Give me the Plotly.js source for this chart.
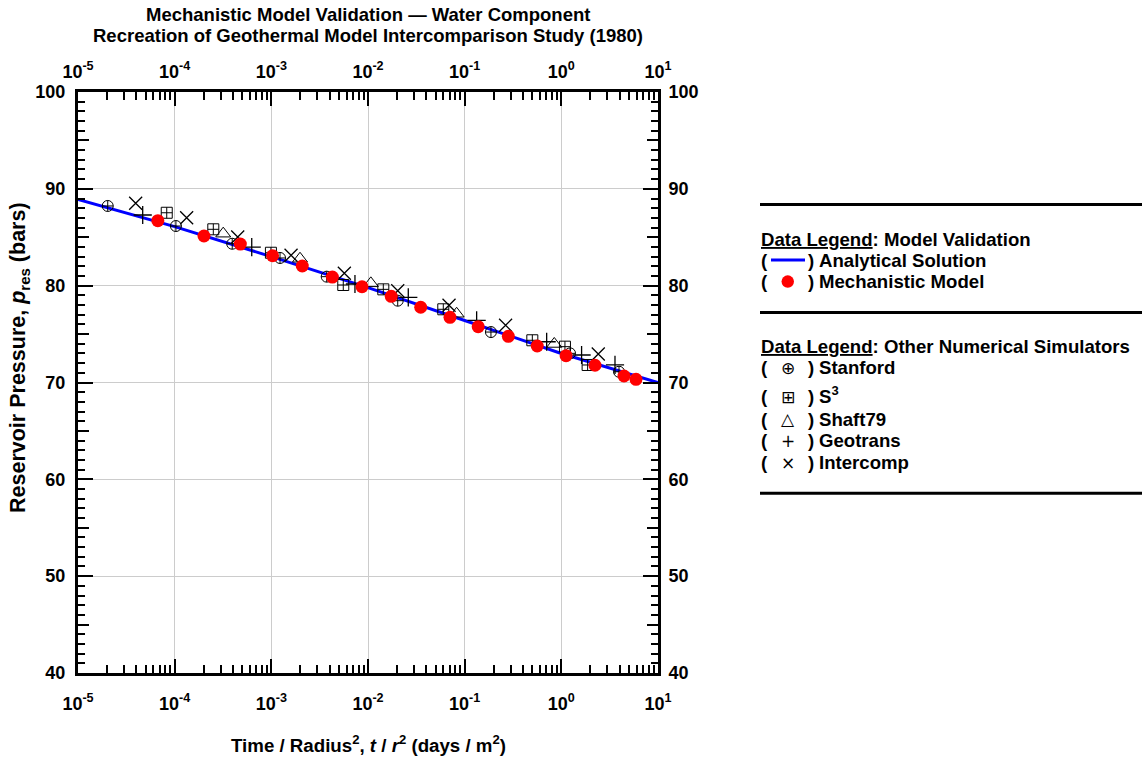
<!DOCTYPE html>
<html><head><meta charset="utf-8">
<script src="https://cdn.plot.ly/plotly-3.0.1.min.js"></script>
<style>html,body{margin:0;padding:0;background:#fff}#chart{width:1143px;height:763px}</style>
</head><body><div id="chart"></div>
<script>
// ---- data ----
const analyticalT = [1e-5, 1e-4, 1e-3, 1e-2, 1e-1, 1, 10];
const analyticalP = [88.9, 86.1, 83.0, 79.8, 76.4, 73.0, 70.0];

const mechT = [6.7e-5, 2.01e-4, 4.78e-4, 1.03e-3, 2.09e-3, 4.28e-3, 8.67e-3, 1.74e-2, 3.51e-2, 7.05e-2, 0.138, 0.283, 0.563, 1.12, 2.23, 4.45, 5.92];
const mechP = [86.71, 85.13, 84.30, 83.09, 82.03, 80.89, 79.89, 78.90, 77.77, 76.73, 75.76, 74.77, 73.77, 72.77, 71.78, 70.67, 70.33];

const stanfordT = [2.03e-5, 1.03e-4, 3.94e-4, 1.23e-3, 3.74e-3, 2.03e-2, 0.187, 1.23, 3.95];
const stanfordP = [88.23, 86.16, 84.33, 82.86, 80.93, 78.45, 75.21, 73.01, 71.11];

const s3T = [8.28e-5, 2.51e-4, 9.9e-4, 5.55e-3, 1.44e-2, 6.01e-2, 0.501, 1.09, 1.87];
const s3P = [87.53, 85.82, 83.40, 80.07, 79.62, 77.56, 74.36, 73.70, 71.81];

const shaftT = [3.18e-4, 1.98e-3, 1.07e-2, 8.26e-2, 0.845];
const shaftP = [85.37, 82.78, 80.24, 77.10, 73.98];

const geoT = [4.67e-5, 6.27e-4, 7.33e-3, 2.61e-2, 0.133, 0.705, 1.62, 3.59];
const geoP = [87.30, 83.99, 80.17, 78.80, 76.42, 74.21, 72.84, 71.81];

const interT = [3.95e-5, 1.33e-4, 4.49e-4, 1.60e-3, 5.69e-3, 2.03e-2, 6.89e-2, 0.265, 2.41];
const interP = [88.51, 87.02, 85.03, 83.14, 81.28, 79.48, 77.97, 75.91, 72.94];

const xTickVals = [1e-5, 1e-4, 1e-3, 1e-2, 1e-1, 1, 10];
const xTickText = ['10<sup>-5</sup>', '10<sup>-4</sup>', '10<sup>-3</sup>', '10<sup>-2</sup>', '10<sup>-1</sup>', '10<sup>0</sup>', '10<sup>1</sup>'];
const yTickVals = [40, 50, 60, 70, 80, 90, 100];
const yMidTicks = [45, 55, 65, 75, 85, 95];

// ---- layout helpers ----
const L = 78, R = 658, T = 92, B = 673;
const px = x => (x - L) / (R - L);
const py = y => (B - y) / (B - T);
const FONT = 'Liberation Sans, Arial, sans-serif';
const SYMF = 'DejaVu Sans, sans-serif';

const minorX = [];
for (let d = -5; d < 1; d++) for (let k = 2; k <= 9; k++) minorX.push(k * Math.pow(10, d));

const tickFont = {family: FONT, size: 18, color: '#000', weight: 'bold'};

const xBase = {
  type: 'log', range: [-5, 1], tickmode: 'array', tickvals: xTickVals, ticktext: xTickText,
  ticks: 'inside', ticklen: 14, tickwidth: 2, tickcolor: '#000',
  showline: true, linewidth: 3, linecolor: '#000', zeroline: false,
  tickfont: tickFont,
  minor: {tickmode: 'array', tickvals: minorX, ticks: 'inside', ticklen: 8, tickwidth: 2, tickcolor: '#000', showgrid: false}
};
const yBase = {
  range: [40, 100], tickmode: 'array', tickvals: yTickVals,
  ticks: 'inside', ticklen: 15, tickwidth: 2, tickcolor: '#000',
  showline: true, linewidth: 3, linecolor: '#000', zeroline: false,
  tickfont: tickFont,
  minor: {dtick: 1, ticks: 'inside', ticklen: 7, tickwidth: 2, tickcolor: '#000', showgrid: false}
};

const traces = [
  {x: analyticalT, y: analyticalP, mode: 'lines', line: {color: '#0000ff', width: 3}, name: 'Analytical Solution'},
  {x: stanfordT, y: stanfordP, mode: 'markers', name: 'Stanford',
   marker: {symbol: 'circle-cross-open', size: 11, color: '#000', line: {width: 1, color: '#000'}}},
  {x: s3T, y: s3P, mode: 'markers', name: 'S3',
   marker: {symbol: 'square-cross-open', size: 11, color: '#000', line: {width: 1, color: '#000'}}},
  {x: shaftT, y: shaftP, mode: 'markers', name: 'Shaft79',
   marker: {symbol: 'triangle-up-open', size: 13, color: '#000', line: {width: 1, color: '#000'}}},
  {x: geoT, y: geoP, mode: 'markers', name: 'Geotrans',
   marker: {symbol: 'cross-thin-open', size: 13, color: '#000', line: {width: 1.3, color: '#000'}}},
  {x: interT, y: interP, mode: 'markers', name: 'Intercomp',
   marker: {symbol: 'x-thin-open', size: 13, color: '#000', line: {width: 1.3, color: '#000'}}},
  {x: mechT, y: mechP, mode: 'markers', name: 'Mechanistic Model',
   marker: {symbol: 'circle', size: 13, color: '#ff0000', line: {width: 0}}},
  // carriers for the extra axes
  {x: [null], y: [null], xaxis: 'x2', yaxis: 'y2', mode: 'markers', showlegend: false, hoverinfo: 'skip'},
  {x: [null], y: [null], xaxis: 'x', yaxis: 'y3', mode: 'markers', showlegend: false, hoverinfo: 'skip'},
  {x: [null], y: [null], xaxis: 'x', yaxis: 'y4', mode: 'markers', showlegend: false, hoverinfo: 'skip'}
];

const ann = [];
function txt(x, y, text, opts) {
  ann.push(Object.assign({xref: 'paper', yref: 'paper', x: px(x), y: py(y), text: text, showarrow: false,
    xanchor: 'left', yanchor: 'middle', font: {family: FONT, size: 18.6, color: '#000', weight: 'bold'}}, opts || {}));
}
// titles
txt(368, 15, 'Mechanistic Model Validation \u2014 Water Component', {xanchor: 'center', font: {family: FONT, size: 18.5, color: '#000', weight: 'bold'}});
txt(368, 36, 'Recreation of Geothermal Model Intercomparison Study (1980)', {xanchor: 'center', font: {family: FONT, size: 18.5, color: '#000', weight: 'bold'}});
txt(368, 744, 'Time / Radius<sup>2</sup>, <i>t</i> / <i>r</i><sup>2</sup> (days / m<sup>2</sup>)', {xanchor: 'center', font: {family: FONT, size: 18.7, color: '#000', weight: 'bold'}});
txt(19, 358, 'Reservoir Pressure, <i>p</i><sub>res</sub> (bars)', {xanchor: 'center', textangle: -90, font: {family: FONT, size: 21.5, color: '#000', weight: 'bold'}});

// legend
const rows1 = [[260, 'Analytical Solution'], [281.5, 'Mechanistic Model']];
txt(759, 239, '<u>Data Legend</u>: Model Validation');
rows1.forEach(r => { txt(759, r[0], '('); txt(806, r[0], ')'); txt(817, r[0], r[1]); });
txt(759, 346.7, '<u>Data Legend</u>: Other Numerical Simulators');
const rows2 = [[367.7, '\u2295', 'Stanford'], [396.7, '\u229E', 'S<sup>3</sup>'], [419.3, '\u25B3', 'Shaft79'], [440.7, '+', 'Geotrans'], [462.7, '\u00D7', 'Intercomp']];
rows2.forEach(r => {
  txt(759, r[0], '('); txt(806, r[0], ')');
  if (r[2].indexOf('sup') >= 0) txt(817, r[0] - 2, r[2]); else txt(817, r[0], r[2]);
  txt(788, r[0], r[1], {xanchor: 'center', font: {family: SYMF, size: 17, color: '#000'}});
});

const shapes = [];
[204.5, 312.5, 493.3].forEach(y => shapes.push({type: 'line', xref: 'paper', yref: 'paper', x0: px(760), x1: px(1142), y0: py(y), y1: py(y), line: {color: '#000', width: 3}}));
shapes.push({type: 'line', xref: 'paper', yref: 'paper', x0: px(771), x1: px(805), y0: py(260), y1: py(260), line: {color: '#0000ff', width: 3}});
shapes.push({type: 'circle', xref: 'paper', yref: 'paper', x0: px(781.5), x1: px(794), y0: py(275.3), y1: py(287.8), fillcolor: '#ff0000', line: {width: 0}});

const layout = {
  width: 1143, height: 763, margin: {l: L, r: 1143 - R, t: T, b: 763 - B, pad: 0},
  paper_bgcolor: '#fff', plot_bgcolor: '#fff', showlegend: false, hovermode: false,
  xaxis: Object.assign({}, xBase, {showgrid: true, gridcolor: '#cccccc', gridwidth: 1, mirror: false, ticklabelstandoff: 12}),
  xaxis2: Object.assign({}, xBase, {overlaying: 'x', side: 'top', anchor: 'y2', showgrid: false, ticklabelstandoff: 4}),
  yaxis: Object.assign({}, yBase, {showgrid: true, gridcolor: '#cccccc', gridwidth: 1, ticklabelstandoff: 6}),
  yaxis2: Object.assign({}, yBase, {overlaying: 'y', side: 'right', anchor: 'x2', showgrid: false, ticklabelstandoff: 4}),
  yaxis3: {range: [40, 100], overlaying: 'y', side: 'left', tickmode: 'array', tickvals: yMidTicks, ticks: 'inside', ticklen: 11, tickwidth: 2, tickcolor: '#000', showticklabels: false, showgrid: false, showline: false, zeroline: false},
  yaxis4: {range: [40, 100], overlaying: 'y', side: 'right', tickmode: 'array', tickvals: yMidTicks, ticks: 'inside', ticklen: 11, tickwidth: 2, tickcolor: '#000', showticklabels: false, showgrid: false, showline: false, zeroline: false},
  annotations: ann, shapes: shapes
};

Plotly.newPlot('chart', traces, layout, {staticPlot: true, displayModeBar: false});
</script></body></html>
